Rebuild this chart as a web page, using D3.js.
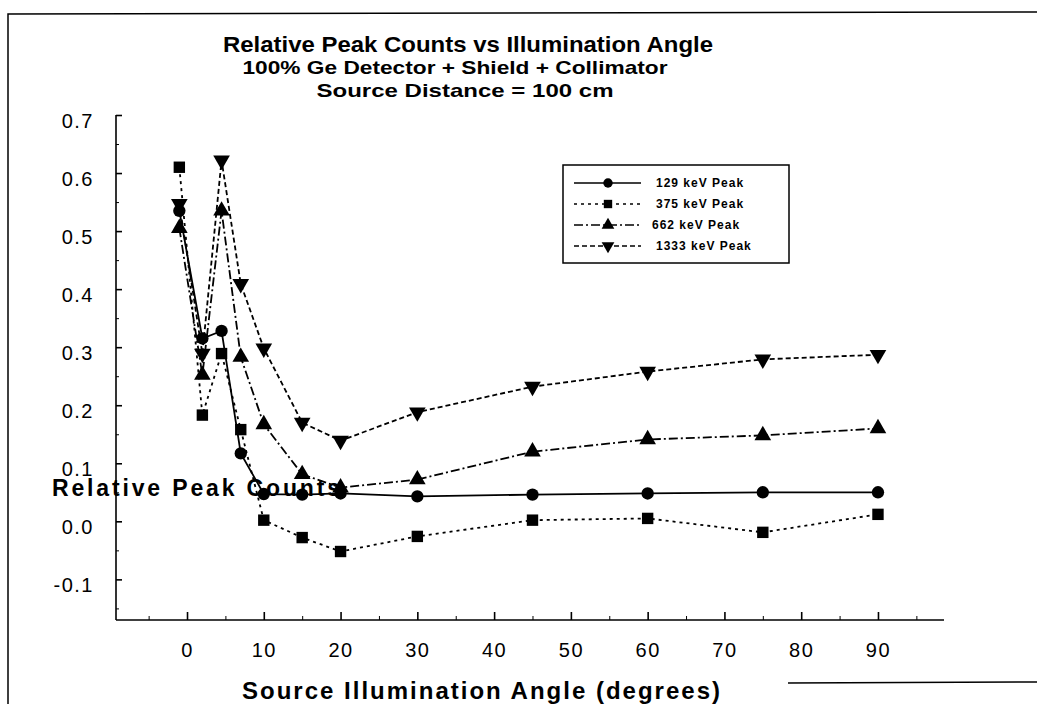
<!DOCTYPE html>
<html lang="en">
<head>
	<meta charset="utf-8">
	<title>Relative Peak Counts vs Illumination Angle</title>
	<style>
		body { margin: 0; background: #fff; }
		svg text { fill: #000; font-family: "Liberation Sans", Arial, sans-serif; }
		.title { font-family: "Liberation Sans Narrow", "Liberation Sans", sans-serif; font-weight: bold; }
		.axis path, .axis line { stroke: #000; stroke-width: 1.6px; }
		.minor line { stroke: #000; stroke-width: 1px; }
		.axis text { font-size: 20px; letter-spacing: 1.5px; }
		.legend text { font-size: 12px; font-weight: bold; letter-spacing: 1px; }
	</style>
</head>
<body>
	<div id="chart"></div>

	<script src="https://cdn.jsdelivr.net/npm/d3@7/dist/d3.min.js"></script>
	<script>
		// values
		var angles   = [-1, 2, 4.5, 7, 10, 15, 20, 30, 45, 60, 75, 90];
		var peak129  = [0.535, 0.315, 0.328, 0.117, 0.047, 0.046, 0.048, 0.043, 0.046, 0.048, 0.050, 0.050];
		var peak375  = [0.610, 0.183, 0.289, 0.158, 0.002, -0.028, -0.052, -0.026, 0.002, 0.005, -0.019, 0.012];
		var peak662  = [0.505, 0.252, 0.535, 0.283, 0.167, 0.081, 0.058, 0.072, 0.120, 0.141, 0.148, 0.160];
		var peak1333 = [0.547, 0.289, 0.622, 0.409, 0.298, 0.170, 0.139, 0.188, 0.232, 0.258, 0.279, 0.287];

		var seriesNames = ["129 keV Peak", "375 keV Peak", "662 keV Peak", "1333 keV Peak"];
		var yTicks = [-0.1, 0.0, 0.1, 0.2, 0.3, 0.4, 0.5, 0.6, 0.7];
		var xTicks = [0, 10, 20, 30, 40, 50, 60, 70, 80, 90];

		var width = 1037,
		    height = 704;

		var svg = d3.select("#chart")
			.append("svg")
			.attr("width", width)
			.attr("height", height);

		var x = d3.scaleLinear().domain([-9.25, 98.6]).range([116, 944]);
		var y = d3.scaleLinear().domain([-0.17, 0.7]).range([620, 115]);

		// page frame from the scan
		svg.append("path")
			.attr("d", "M8,704 L8,14 L1037,12")
			.attr("fill", "none").attr("stroke", "#000").attr("stroke-width", 1.5);
		svg.append("line")
			.attr("x1", 788).attr("y1", 683).attr("x2", 1037).attr("y2", 682)
			.attr("stroke", "#000").attr("stroke-width", 1.5);

		// titles
		svg.append("text").attr("class", "title")
			.attr("x", 468).attr("y", 52).attr("text-anchor", "middle")
			.attr("font-size", 22).attr("textLength", 490).attr("lengthAdjust", "spacingAndGlyphs")
			.text("Relative Peak Counts vs Illumination Angle");
		svg.append("text").attr("class", "title")
			.attr("x", 455).attr("y", 74).attr("text-anchor", "middle")
			.attr("font-size", 19).attr("textLength", 425).attr("lengthAdjust", "spacingAndGlyphs")
			.text("100% Ge Detector + Shield + Collimator");
		svg.append("text").attr("class", "title")
			.attr("x", 465).attr("y", 97).attr("text-anchor", "middle")
			.attr("font-size", 19).attr("textLength", 297).attr("lengthAdjust", "spacingAndGlyphs")
			.text("Source Distance = 100 cm");

		// axes
		var fmt = function(d) { return d3.format(".1f")(d).replace("\u2212", "-"); };
		var yAxis = d3.axisLeft(y).tickValues(yTicks).tickFormat(fmt)
			.tickSizeInner(-6).tickSizeOuter(0).tickPadding(22);
		var gy = svg.append("g").attr("class", "axis")
			.attr("transform", "translate(116,0)")
			.call(yAxis);
		gy.select(".domain").attr("d", "M0," + y(0.7) + "V620");
		gy.selectAll(".tick text").attr("y", 6);

		svg.append("g").attr("class", "minor")
			.attr("transform", "translate(116,0)")
			.call(d3.axisLeft(y).tickValues(d3.range(-0.15, 0.7, 0.1)).tickSize(-3).tickFormat(""))
			.select(".domain").remove();

		var xAxis = d3.axisBottom(x).tickValues(xTicks).tickFormat(d3.format("d"))
			.tickSizeInner(-8).tickSizeOuter(0).tickPadding(23);
		var gx = svg.append("g").attr("class", "axis")
			.attr("transform", "translate(0,620)")
			.call(xAxis);
		gx.select(".domain").attr("d", "M116,0H944");

		svg.append("g").attr("class", "minor")
			.attr("transform", "translate(0,620)")
			.call(d3.axisBottom(x).tickValues(d3.range(-5, 96, 10)).tickSize(-4).tickFormat(""))
			.select(".domain").remove();

		// axis titles
		svg.append("text")
			.attr("x", 52).attr("y", 496)
			.attr("font-size", 23).attr("font-weight", "bold")
			.attr("textLength", 288).attr("lengthAdjust", "spacing")
			.text("Relative Peak Counts");
		svg.append("text")
			.attr("x", 481).attr("y", 699).attr("text-anchor", "middle")
			.attr("font-size", 24).attr("font-weight", "bold")
			.attr("textLength", 478).attr("lengthAdjust", "spacing")
			.text("Source Illumination Angle (degrees)");

		// series
		var values = [peak129, peak375, peak662, peak1333];
		var dashes = ["none", "3,4", "9,3,2,3", "5,3"];
		var symbols = [d3.symbolCircle, d3.symbolSquare, d3.symbolTriangle, d3.symbolTriangle];
		var sizes = [120, 130, 120, 120];
		var rot = [0, 0, 0, 180];

		var series = seriesNames.map(function(name, i) {
			return {
				name: name,
				points: angles.map(function(a, j) { return { a: a, v: values[i][j] }; })
			};
		});

		var line = d3.line()
			.x(function(d) { return x(d.a); })
			.y(function(d) { return y(d.v); });

		var g = svg.selectAll(".series")
			.data(series)
			.enter().append("g").attr("class", "series");

		g.append("path")
			.attr("d", function(d) { return line(d.points); })
			.attr("fill", "none")
			.attr("stroke", "#000")
			.attr("stroke-width", 1.8)
			.attr("stroke-dasharray", function(d, i) { return dashes[i]; });

		g.each(function(d, i) {
			d3.select(this).selectAll("path.mark")
				.data(d.points)
				.enter().append("path")
				.attr("class", "mark")
				.attr("d", d3.symbol().type(symbols[i]).size(sizes[i]))
				.attr("transform", function(p) {
					return "translate(" + x(p.a) + "," + y(p.v) + ") rotate(" + rot[i] + ")";
				})
				.attr("fill", "#000");
		});

		// legend
		var legend = svg.append("g").attr("class", "legend");
		legend.append("rect")
			.attr("x", 563).attr("y", 165).attr("width", 226).attr("height", 98)
			.attr("fill", "#fff").attr("stroke", "#000").attr("stroke-width", 1.5);

		var row = legend.selectAll(".row")
			.data(seriesNames)
			.enter().append("g")
			.attr("transform", function(d, i) { return "translate(0," + (183 + i * 21) + ")"; });

		row.append("line")
			.attr("x1", 574).attr("x2", 641).attr("y1", 0).attr("y2", 0)
			.attr("stroke", "#000").attr("stroke-width", 1.5)
			.attr("stroke-dasharray", function(d, i) { return dashes[i]; });
		row.append("path")
			.attr("d", function(d, i) { return d3.symbol().type(symbols[i]).size(70)(); })
			.attr("transform", function(d, i) { return "translate(608,0) rotate(" + rot[i] + ")"; })
			.attr("fill", "#000");
		row.append("text")
			.attr("x", function(d, i) { return i == 2 ? 652 : 656; })
			.attr("y", 4)
			.text(function(d) { return d; });
	</script>
</body>
</html>
